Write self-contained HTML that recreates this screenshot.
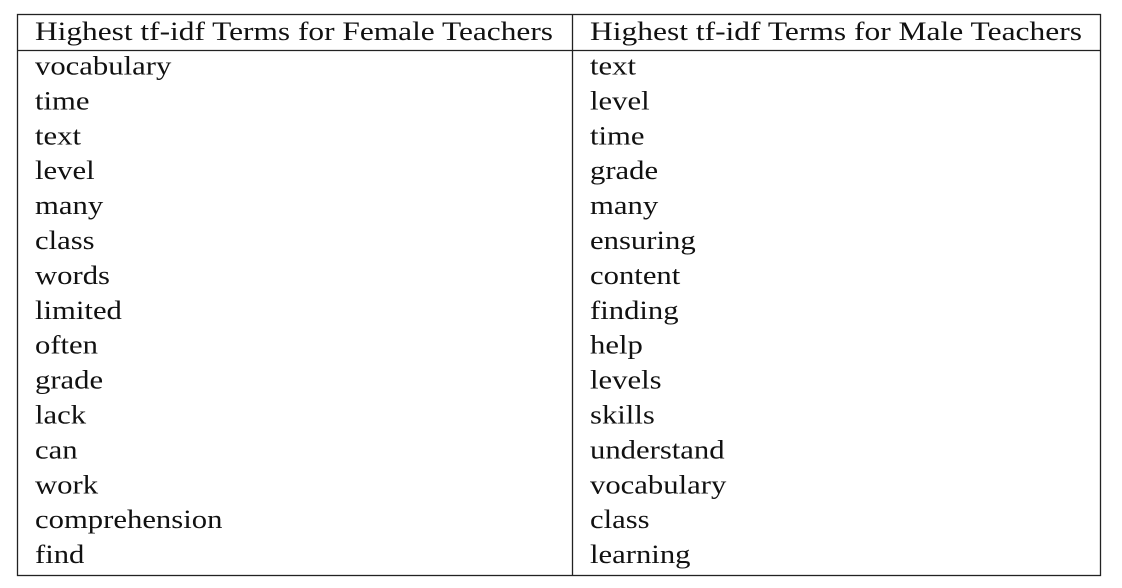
<!DOCTYPE html>
<html><head><meta charset="utf-8"><style>
html,body{margin:0;padding:0;background:#fff;}
svg{display:block;}
text{font-family:"Liberation Serif",serif;font-size:26px;fill:#111;}
</style></head><body>
<svg width="1122" height="588">
<rect x="17.5" y="14.5" width="1083" height="561" fill="none" stroke="#222" stroke-width="1.3"/>
<line x1="572.5" y1="14" x2="572.5" y2="576" stroke="#222" stroke-width="1.3"/>
<line x1="17" y1="50.5" x2="1101" y2="50.5" stroke="#222" stroke-width="1.3"/>
<text x="35" y="40" textLength="518" lengthAdjust="spacingAndGlyphs">Highest tf-idf Terms for Female Teachers</text>
<text x="590" y="40" textLength="492" lengthAdjust="spacingAndGlyphs">Highest tf-idf Terms for Male Teachers</text>
<g id="rows"></g>
</svg>
<script>
const femaleTerms=["vocabulary","time","text","level","many","class","words","limited","often","grade","lack","can","work","comprehension","find"];
const maleTerms=["text","level","time","grade","many","ensuring","content","finding","help","levels","skills","understand","vocabulary","class","learning"];
const g=document.getElementById('rows');
const ns='http://www.w3.org/2000/svg';
function add(x,y,s,name){
  const t=document.createElementNS(ns,'text');
  t.setAttribute('x',x);t.setAttribute('y',y);t.textContent=s;
  
  
  g.appendChild(t);
  const w=t.getComputedTextLength();
  t.setAttribute('textLength',(w*1.18).toFixed(1));
  t.setAttribute('lengthAdjust','spacingAndGlyphs');
}
femaleTerms.forEach((s,i)=>add(35,74.5+i*34.9,s,'female-term'));
maleTerms.forEach((s,i)=>add(590,74.5+i*34.9,s,'male-term'));
</script>
</body></html>
